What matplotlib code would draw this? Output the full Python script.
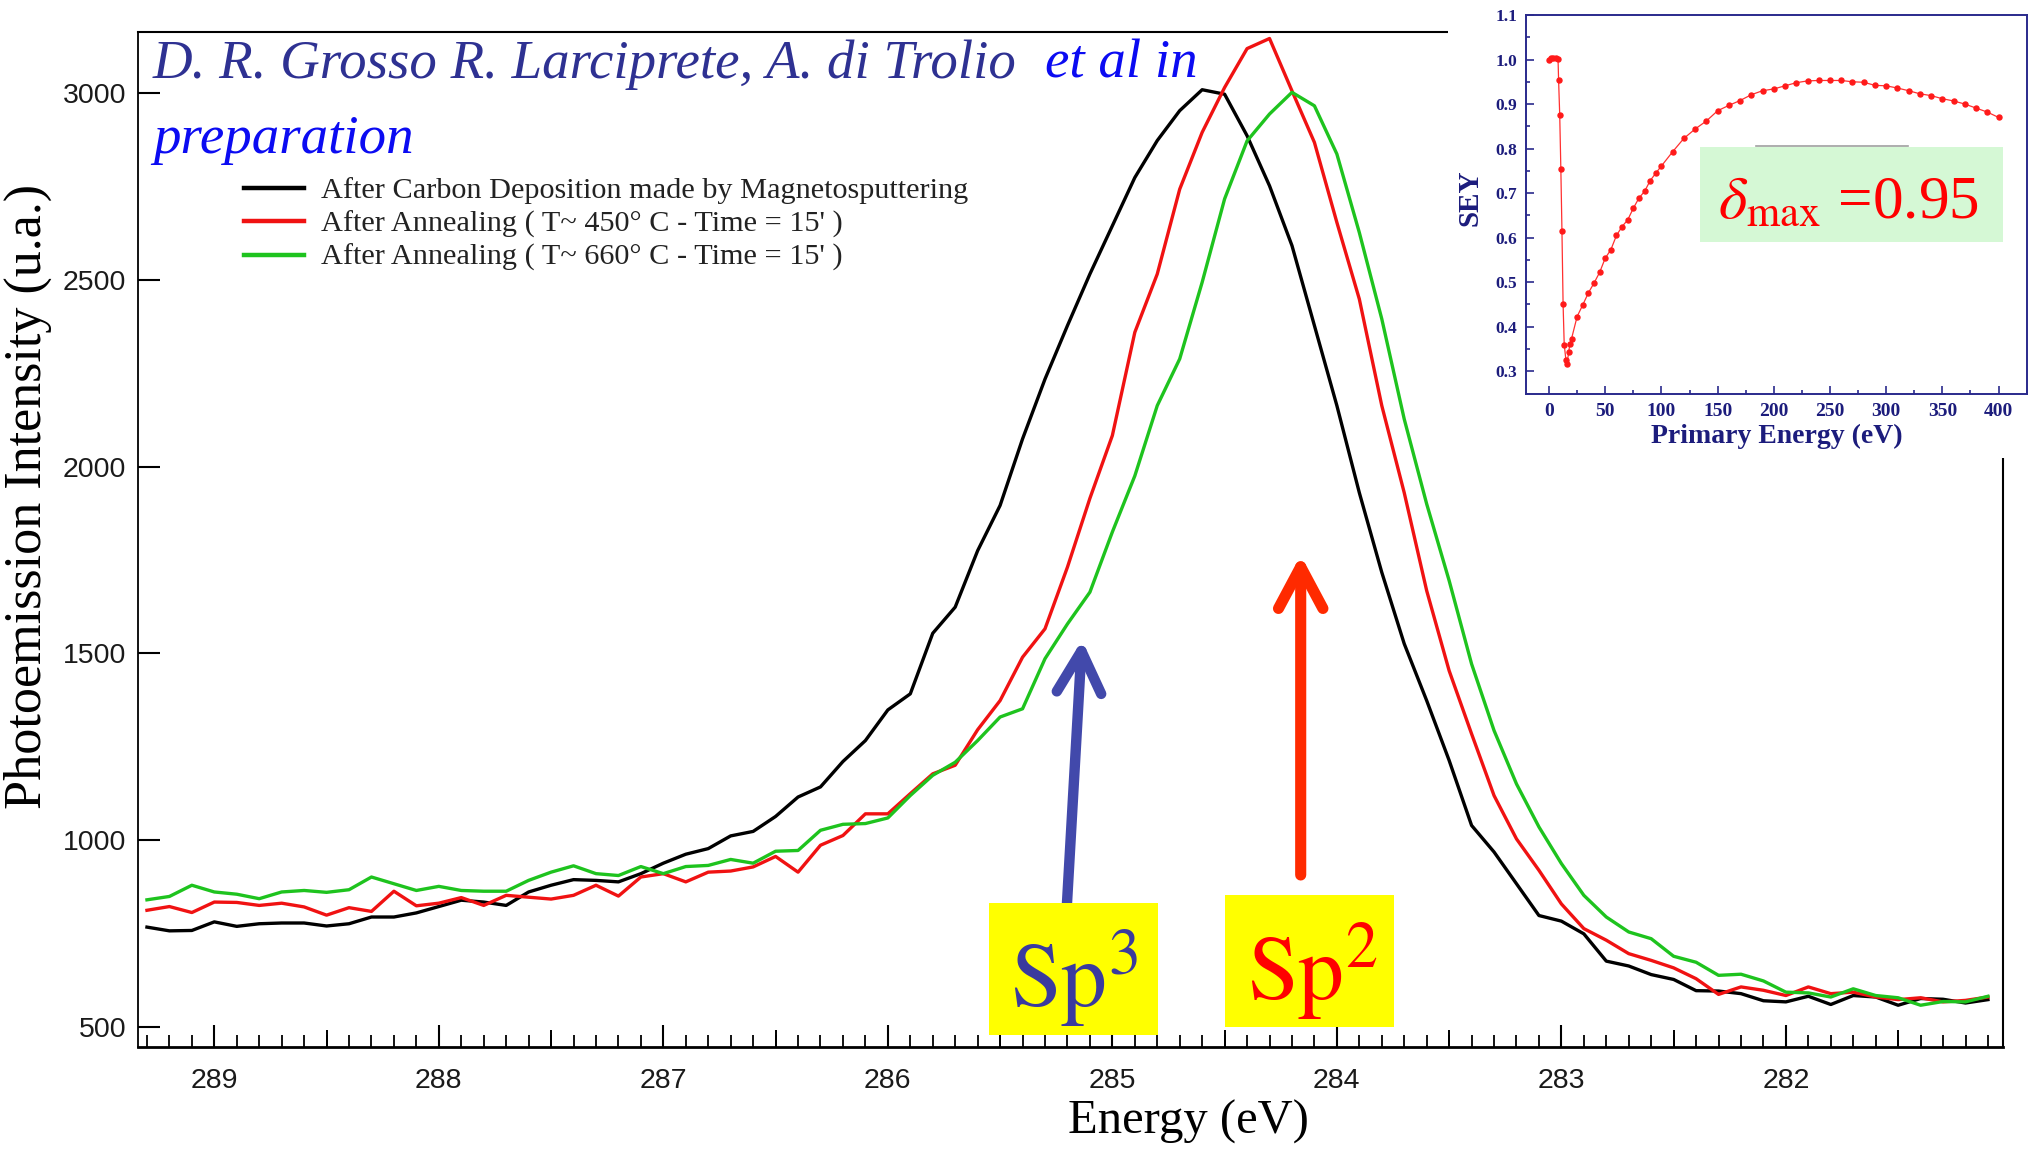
import numpy as np
import matplotlib
matplotlib.use("Agg")
import matplotlib.pyplot as plt
from matplotlib.ticker import MultipleLocator, FormatStrFormatter
from matplotlib.patches import Rectangle

plt.rcParams["font.family"] = "Liberation Serif"
plt.rcParams["mathtext.fontset"] = "stix"

# XPS C1s spectra, binding energy 289.3 -> 281.1 eV in 0.1 eV steps
energy = np.linspace(289.3, 281.1, 83)

black = [768, 758, 759, 782, 770, 777, 779, 779, 771, 777,
         795, 795, 806, 823, 840, 835, 826, 862, 880, 895,
         893, 889, 911, 939, 963, 978, 1012, 1024, 1064, 1116,
         1143, 1211, 1267, 1349, 1392, 1554, 1624, 1775, 1896, 2074,
         2234, 2377, 2515, 2644, 2773, 2872, 2952, 3008, 2996, 2885,
         2751, 2591, 2377, 2163, 1930, 1717, 1526, 1374, 1214, 1040,
         969, 884, 799, 784, 750, 677, 664, 641, 628, 598,
         597, 590, 571, 568, 583, 561, 585, 581, 559, 577,
         575, 565, 574]
red = [813, 823, 807, 835, 834, 826, 832, 822, 800, 820,
       810, 864, 825, 832, 847, 826, 853, 848, 843, 853,
       880, 851, 902, 911, 889, 915, 918, 929, 957, 915,
       987, 1013, 1071, 1071, 1125, 1178, 1201, 1296, 1374, 1490,
       1566, 1731, 1915, 2083, 2359, 2515, 2742, 2894, 3014, 3118,
       3145, 3005, 2867, 2653, 2448, 2163, 1930, 1668, 1454, 1285,
       1120, 1004, 920, 830, 764, 733, 697, 679, 659, 630,
       588, 608, 599, 585, 608, 590, 594, 581, 574, 579,
       568, 572, 581]
green = [841, 850, 880, 862, 856, 844, 862, 866, 861, 868,
         902, 884, 866, 877, 866, 864, 864, 893, 915, 932,
         911, 906, 930, 911, 930, 933, 949, 939, 971, 973,
         1027, 1043, 1045, 1060, 1120, 1174, 1209, 1267, 1330, 1352,
         1486, 1579, 1664, 1825, 1975, 2163, 2288, 2493, 2716, 2871,
         2943, 3001, 2965, 2836, 2626, 2395, 2127, 1900, 1695, 1472,
         1294, 1151, 1036, 938, 853, 795, 755, 737, 690, 674,
         639, 642, 624, 594, 592, 581, 603, 585, 579, 559,
         569, 568, 583]
labels = ["After Carbon Deposition made by Magnetosputtering",
          "After Annealing ( T~ 450° C - Time = 15' )",
          "After Annealing ( T~ 660° C - Time = 15' )"]

# SEY inset
sey_energy = [0, 1.5, 3.5, 6, 8, 8.5, 9.5, 10.5, 11.5, 12.5, 13.5, 15, 16, 17.5, 18.5, 20,
              25, 30, 35, 40, 45, 50, 55, 60, 65, 70, 75, 80, 85, 90, 95, 100,
              110, 120, 130, 140, 150, 160, 170, 180, 190, 200, 210, 220, 230, 240,
              250, 260, 270, 280, 290, 300, 310, 320, 330, 340, 350, 360, 370, 380, 390, 400]
sey_value = [1.000, 1.003, 1.004, 1.003, 1.002, 0.954, 0.876, 0.755, 0.614, 0.451, 0.360, 0.326,
             0.317, 0.343, 0.361, 0.373,
             0.423, 0.449, 0.476, 0.498, 0.522, 0.554, 0.573, 0.605, 0.625, 0.640, 0.666, 0.689,
             0.704, 0.728, 0.745, 0.761,
             0.793, 0.823, 0.844, 0.862, 0.885, 0.897, 0.908, 0.921, 0.930, 0.934, 0.941, 0.948,
             0.952, 0.953, 0.953, 0.953, 0.950, 0.949, 0.942, 0.941, 0.936, 0.930, 0.923, 0.919,
             0.912, 0.907, 0.900, 0.891, 0.882, 0.870]

W, H = 2035, 1149
def fx(x):
    return x / W
def fy(y):
    return 1 - y / H

fig = plt.figure(figsize=(20.35, 11.49), dpi=100)
ax = fig.add_axes([fx(138.2), fy(1047), (2003 - 138.2) / W, (1047 - 32) / H])

ax.plot(energy, black, color="#000000", lw=2.4, label=labels[0])
ax.plot(energy, red, color="#f01212", lw=2.4, label=labels[1])
ax.plot(energy, green, color="#1ec31e", lw=2.4, label=labels[2])

ax.set_xlim(289.339, 281.033)
ax.set_ylim(447.3, 3162.4)
ax.xaxis.set_major_locator(MultipleLocator(1))
ax.xaxis.set_minor_locator(MultipleLocator(0.1))
ax.xaxis.set_major_formatter(FormatStrFormatter("%d"))
ax.set_yticks([500, 1000, 1500, 2000, 2500, 3000])
ax.yaxis.set_major_formatter(FormatStrFormatter("%d"))
ax.tick_params(axis="x", which="major", direction="in", length=16, width=1.5, pad=15,
               labelsize=20.5, labelfontfamily="Liberation Sans", labelcolor="#1a1a1a", top=False)
ax.tick_params(axis="x", which="minor", direction="in", length=8.5, width=1.3, top=False)
ax.tick_params(axis="y", which="major", direction="in", length=16, width=1.5, pad=8.5,
               labelsize=20.5, labelfontfamily="Liberation Sans", labelcolor="#1a1a1a", right=False)
sec = ax.secondary_xaxis("bottom")
sec.set_xticks(np.arange(288.5, 281.0, -1.0))
sec.tick_params(direction="in", length=12.5, width=1.4, labelbottom=False)
sec.spines["bottom"].set_visible(False)

ax.spines["top"].set_linewidth(1.5)
ax.spines["left"].set_linewidth(1.3)
ax.spines["bottom"].set_linewidth(2.0)
ax.spines["right"].set_linewidth(1.5)

ax.set_ylabel("Photoemission Intensity (u.a.)", fontsize=37.5)
ax.yaxis.set_label_coords(-0.0462, 0.5424)
ax.set_xlabel("Energy (eV)", fontsize=35)
ax.xaxis.set_label_coords(0.5634, -0.052)

leg = ax.legend(loc="upper left", bbox_to_anchor=(0.0567, 0.857), frameon=False,
                prop={"family": "Liberation Serif", "size": 21.8}, labelcolor="#222222",
                handlelength=2.0, handletextpad=0.55, labelspacing=0.2,
                borderpad=0, borderaxespad=0)
for h in leg.get_lines():
    h.set_linewidth(3.2)

# author note
t1 = fig.text(fx(153), fy(78), "D. R. Grosso R. Larciprete, A. di Trolio", fontsize=39.5,
              style="italic", color="#2e3192", va="baseline", ha="left")
ax.annotate("et al in", xy=(1, 0), xycoords=t1, xytext=(20, 0), textcoords="offset points",
            fontsize=39.5, style="italic", color="#0b0bf2", va="bottom", ha="left")
fig.text(fx(153), fy(153), "preparation", fontsize=39.5, style="italic", color="#0b0bf2",
         va="baseline", ha="left")

# Sp3 / Sp2 markers
ax.annotate("", xy=(fx(1082), fy(640)), xycoords="figure fraction",
            xytext=(fx(1067), fy(903)), textcoords="figure fraction",
            arrowprops=dict(arrowstyle="->,head_length=30,head_width=16", lw=7.5,
                            color="#4249ab", shrinkA=0, shrinkB=0, mutation_scale=1,
                            capstyle="round", joinstyle="round"))
ax.annotate("", xy=(fx(1300.7), fy(555)), xycoords="figure fraction",
            xytext=(fx(1300.7), fy(875)), textcoords="figure fraction",
            arrowprops=dict(arrowstyle="->,head_length=30,head_width=16", lw=8,
                            color="#ff2a00", shrinkA=0, shrinkB=0, mutation_scale=1,
                            capstyle="round", joinstyle="round"))
fig.add_artist(Rectangle((fx(989), fy(1035)), (1158 - 989) / W, (1035 - 903) / H,
                         transform=fig.transFigure, facecolor="#ffff00", edgecolor="none", zorder=2))
fig.add_artist(Rectangle((fx(1225), fy(1027)), (1394 - 1225) / W, (1027 - 895) / H,
                         transform=fig.transFigure, facecolor="#ffff00", edgecolor="none", zorder=2))
fig.text(fx(1010), fy(1007), r"$\mathrm{Sp}^{3}$", fontsize=66, color="#3a3a9e",
         va="baseline", ha="left", zorder=4)
fig.text(fx(1247), fy(1000), r"$\mathrm{Sp}^{2}$", fontsize=66, color="#ff0000",
         va="baseline", ha="left", zorder=4)

# white backing behind the inset
fig.add_artist(Rectangle((fx(1448), fy(458)), (W - 1448) / W, 458 / H,
                         transform=fig.transFigure, facecolor="white", edgecolor="none", zorder=1))

navy = "#1c1c7c"
axi = fig.add_axes([fx(1526), fy(394), 501 / W, 379 / H], zorder=5)
axi.plot(sey_energy, sey_value, color="#ff3030", lw=0.9, marker="o", ms=3.6,
         mfc="#ff1a1a", mec="#ff1a1a")
axi.set_xlim(-20.5, 425.3)
axi.set_ylim(0.249, 1.1)
axi.xaxis.set_major_locator(MultipleLocator(50))
axi.xaxis.set_minor_locator(MultipleLocator(25))
axi.yaxis.set_major_locator(MultipleLocator(0.1))
axi.yaxis.set_minor_locator(MultipleLocator(0.05))
axi.yaxis.set_major_formatter(FormatStrFormatter("%.1f"))
axi.tick_params(which="both", direction="in", top=False, right=False, color="#2a2a8c", width=1.2)
axi.tick_params(which="major", length=5.5)
axi.tick_params(which="minor", length=3)
axi.tick_params(axis="x", labelsize=14, pad=6.5, labelcolor=navy)
axi.tick_params(axis="y", labelsize=12.5, pad=6.5, labelcolor=navy)
for lbl in axi.get_xticklabels() + axi.get_yticklabels():
    lbl.set_fontweight("bold")
for sp in axi.spines.values():
    sp.set_color("#2a2a8c")
    sp.set_linewidth(1.4)
axi.set_xlabel("Primary Energy (eV)", fontsize=20, fontweight="bold", color=navy)
axi.xaxis.set_label_coords(0.5, -0.08)
axi.set_ylabel("SEY", fontsize=21, fontweight="bold", color=navy)
axi.yaxis.set_label_coords(-0.0858, 0.517)

axi.add_patch(Rectangle((0.3473, 0.401), 0.9521 - 0.3473, 0.6517 - 0.401,
                        transform=axi.transAxes, facecolor="#d5f8d5", edgecolor="none", zorder=3))
axi.plot([0.459, 0.762], [0.654, 0.654], transform=axi.transAxes, color="#a0a0a0", lw=1.2, zorder=3)
axi.text(0.6427, 0.4644, r"$\delta_{\mathrm{max}}$ =0.95", transform=axi.transAxes,
         fontsize=44, color="#ff0000", ha="center", va="baseline", zorder=4)

fig.savefig("out.png", dpi=100)
